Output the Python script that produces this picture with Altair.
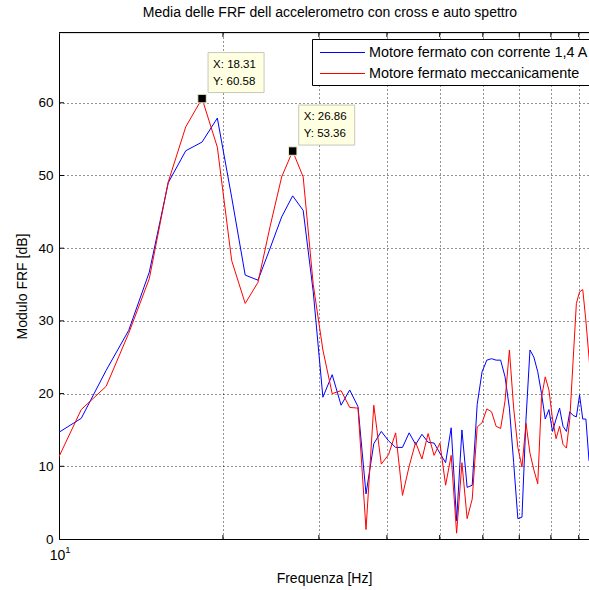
import altair as alt
import numpy as np
import pandas as pd

FONT = "Liberation Sans"

# FFT bin spacing of the averaged spectra [Hz] and the bins shown
df_hz = 2500 / 2048
bin_index = np.arange(8, 79)
freq_hz = bin_index * df_hz

# averaged FRF modulus [dB], one value per bin
frf_corrente = [
    14.2, 16.6, 23.2, 28.7, 36.7, 49.0, 53.4, 54.6, 57.9, 47.0,
    36.3, 35.6, 40.0, 44.3, 47.2, 45.2, 34.0, 19.5, 22.6, 18.4,
    20.5, 18.2, 6.2, 13.1, 14.8, 13.5, 12.6, 12.6, 14.6, 13.0,
    14.4, 13.3, 13.2, 11.8, 10.5, 15.3, 2.5, 15.0, 7.1, 7.4,
    18.5, 23.0, 24.6, 24.8, 24.6, 24.6, 22.3, 18.0, 10.5, 2.8,
    3.0, 16.5, 26.0, 25.0, 23.0, 20.0, 16.5, 17.8, 14.8, 16.5,
    18.0, 15.5, 14.8, 17.5, 17.0, 16.8, 19.8, 16.5, 16.5, 10.8,
    10.0,
]
frf_meccanico = [
    9.7, 17.8, 21.0, 28.3, 35.8, 49.1, 56.7, 60.58, 53.9, 38.3,
    32.4, 35.3, 43.0, 49.8, 53.36, 49.8, 35.0, 26.0, 20.0, 20.4,
    18.1, 18.0, 1.3, 18.4, 10.3, 11.6, 14.6, 6.0, 10.0, 13.3,
    11.0, 14.5, 11.5, 13.2, 7.4, 11.5, 0.8, 10.5, 2.8, 5.5,
    15.4, 16.0, 17.9, 17.5, 15.5, 15.2, 19.0, 26.0, 18.0, 12.6,
    9.9, 15.9, 11.8, 9.5, 7.6, 19.5, 22.3, 20.5, 16.5, 13.8,
    15.5, 13.0, 12.5, 16.5, 24.5, 32.4, 34.0, 34.3, 30.0, 25.0,
    20.0,
]

series_names = ["Motore fermato con corrente 1,4 A", "Motore fermato meccanicamente"]
series_colors = ["#0000ff", "#ff0000"]
plot_title = "Media delle FRF dell accelerometro con cross e auto spettro"

# data cursors placed on the two resonance peaks
tip_freq = [18.31, 26.86]
tip_db = [60.58, 53.36]

x_ticks = [10, 20, 30, 40, 50, 60, 70, 80, 90]
y_ticks = [0, 10, 20, 30, 40, 50, 60]

curves = pd.DataFrame({
    "freq": np.concatenate([freq_hz, freq_hz]),
    "db": frf_corrente + frf_meccanico,
    "serie": [series_names[0]] * len(frf_corrente) + [series_names[1]] * len(frf_meccanico),
})
tips = pd.DataFrame({
    "freq": tip_freq,
    "db": tip_db,
    "lx": [f"X: {v:.2f}" for v in tip_freq],
    "ly": [f"Y: {v:.2f}" for v in tip_db],
})

x_enc = alt.X(
    "freq:Q",
    title="Frequenza [Hz]",
    scale=alt.Scale(type="log", domain=[10, 94], nice=False),
    axis=alt.Axis(
        values=x_ticks, labelExpr="datum.value == 10 ? '10' : ''",
        labelFlush=False, labelOverlap=False, ticks=False, tickSize=0,
        grid=True, gridDash=[1, 3], gridColor="black", gridOpacity=0.85,
        domainColor="black", labelFont=FONT, labelFontSize=14, labelColor="black",
        labelPadding=9, labelOffset=-2,
        titleFont=FONT, titleFontSize=14, titleFontWeight="normal",
        titleColor="black", titleY=39, titleBaseline="middle",
    ),
)
y_enc = alt.Y(
    "db:Q",
    title="Modulo FRF [dB]",
    scale=alt.Scale(domain=[0, 69.6], nice=False, zero=False),
    axis=alt.Axis(
        values=y_ticks, ticks=False, tickSize=0, labelPadding=6,
        grid=True, gridDash=[1, 3], gridColor="black", gridOpacity=0.85,
        domainColor="black", labelFont=FONT, labelFontSize=13.5, labelColor="black",
        titleFont=FONT, titleFontSize=14, titleFontWeight="normal", titleColor="black",
        titleX=-37, titleY=253, titleAngle=270, titleAlign="center", titleBaseline="middle",
    ),
)

base = alt.Chart(curves)
line_blue = base.transform_filter(alt.datum.serie == series_names[0]).mark_line(
    color=series_colors[0], strokeWidth=1, clip=True
).encode(x=x_enc, y=y_enc)
line_red = base.transform_filter(alt.datum.serie == series_names[1]).mark_line(
    color=series_colors[1], strokeWidth=1, clip=True
).encode(x=x_enc, y=y_enc)

# inward tick marks on the box edges
xt = alt.Chart(pd.DataFrame({"freq": x_ticks[1:]}))
ticks_top = xt.mark_rule(color="black", strokeWidth=1).encode(
    x=x_enc, y=alt.value(0), y2=alt.value(4)
)
ticks_bottom = xt.mark_rule(color="black", strokeWidth=1).encode(
    x=x_enc, y=alt.value(506), y2=alt.value(502)
)
ticks_left = alt.Chart(pd.DataFrame({"db": y_ticks[1:]})).mark_rule(
    color="black", strokeWidth=1
).encode(y=y_enc, x=alt.value(0), x2=alt.value(5))

tip_base = alt.Chart(tips)
tip_box = tip_base.mark_rect(
    fill="#ffffe1", stroke="#c8c8b8", strokeWidth=1,
    xOffset=6, x2Offset=62, yOffset=-46, y2Offset=-6,
).encode(x=x_enc, x2=alt.X2("freq"), y=y_enc, y2=alt.Y2("db"))
tip_marker = tip_base.mark_point(
    shape="square", filled=True, fill="black", stroke="#f0f0c8", strokeWidth=1, size=72, opacity=1
).encode(x=x_enc, y=y_enc)
tip_text_x = tip_base.mark_text(
    align="left", baseline="middle", dx=11, dy=-34, font=FONT, fontSize=11.5, color="black"
).encode(x=x_enc, y=y_enc, text="lx:N")
tip_text_y = tip_base.mark_text(
    align="left", baseline="middle", dx=11, dy=-17, font=FONT, fontSize=11.5, color="black"
).encode(x=x_enc, y=y_enc, text="ly:N")

one = alt.Data(values=[{}])
top_border = alt.Chart(one).mark_rule(color="black", strokeWidth=1).encode(
    x=alt.value(0), x2=alt.value(700), y=alt.value(-0.5)
)
title_text = alt.Chart(one).mark_text(
    align="center", baseline="middle", font=FONT, fontSize=14, color="black"
).encode(x=alt.value(271), y=alt.value(-20), text=alt.value(plot_title))

# exponent of the decade label under the axis
decade_sup = alt.Chart(pd.DataFrame({"freq": [10], "db": [0], "sup": ["1"]})).mark_text(
    dx=9, dy=10.5, font=FONT, fontSize=9.5, color="black", baseline="middle"
).encode(x=x_enc, y=y_enc, text="sup:N")

legend_box = alt.Chart(one).mark_rect(fill="white", stroke="black", strokeWidth=1).encode(
    x=alt.value(253.5), x2=alt.value(700), y=alt.value(6.5), y2=alt.value(52.5)
)
legend_layers = [legend_box]
for i, (name, col) in enumerate(zip(series_names, series_colors)):
    row_y = 19.5 + 21 * i
    legend_layers.append(
        alt.Chart(one).mark_rule(color=col, strokeWidth=1).encode(
            x=alt.value(261), x2=alt.value(306), y=alt.value(row_y)
        )
    )
    legend_layers.append(
        alt.Chart(one).mark_text(
            align="left", baseline="middle", font=FONT, fontSize=14.4, color="black"
        ).encode(x=alt.value(310), y=alt.value(row_y), text=alt.value(name))
    )

chart = alt.layer(
    line_blue, line_red, ticks_top, ticks_bottom, ticks_left,
    tip_box, tip_marker, tip_text_x, tip_text_y,
    top_border, title_text, decade_sup, *legend_layers,
).properties(
    width=530,
    height=506,
    autosize=alt.AutoSizeParams(type="none"),
    padding={"left": 59, "top": 33, "right": 0, "bottom": 47},
).configure_view(stroke=None).configure(background="white")

chart.save("out.html", embed_options={"renderer": "svg", "actions": False})
